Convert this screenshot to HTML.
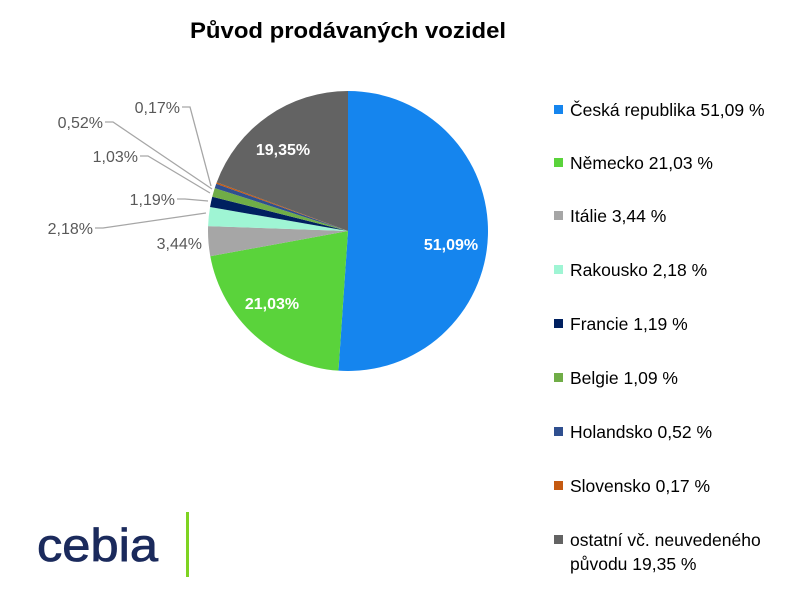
<!DOCTYPE html>
<html><head><meta charset="utf-8"><style>
body{margin:0;background:#fff;width:800px;height:600px;overflow:hidden;font-family:"Liberation Sans",sans-serif}
</style></head><body>
<svg id="s" width="800" height="600" xmlns="http://www.w3.org/2000/svg" font-family="Liberation Sans, sans-serif">
<text x="348" y="38" text-anchor="middle" font-size="22" font-weight="bold" fill="#000" textLength="316" lengthAdjust="spacingAndGlyphs">Původ prodávaných vozidel</text>
<g id="pie"></g>
<g fill="none" stroke="#a6a6a6" stroke-width="1.3">
<polyline points="182,107 190,107 211,186"/>
<polyline points="105,122 113,122 212,189"/>
<polyline points="140,156 148,156 210,193"/>
<polyline points="177,199 185,199 208,201"/>
<polyline points="95,228 103,228 206,213"/>
</g>
<g font-size="16" fill="#595959" text-anchor="end">
<text x="180" y="113">0,17%</text>
<text x="103" y="128">0,52%</text>
<text x="138" y="162">1,03%</text>
<text x="175" y="205">1,19%</text>
<text x="93" y="234">2,18%</text>
<text x="202" y="249">3,44%</text>
</g>
<g font-size="16" font-weight="bold" fill="#fff" text-anchor="middle">
<text x="451" y="250">51,09%</text>
<text x="272" y="309">21,03%</text>
<text x="283" y="155">19,35%</text>
</g>
<g font-size="17.5" fill="#000" id="leg"></g>
<text x="37" y="561" font-size="46" fill="#1b2a5c" textLength="121" lengthAdjust="spacingAndGlyphs" stroke="#1b2a5c" stroke-width="0.8">cebia</text>
<rect x="186" y="512" width="3" height="65" fill="#7ed321"/>
</svg>
<script>
var d=[["Česká republika 51,09 %",51.09,"#1585ee"],["Německo 21,03 %",21.03,"#5ad33b"],["Itálie 3,44 %",3.44,"#a6a6a6"],["Rakousko 2,18 %",2.18,"#9ff5d4"],["Francie 1,19 %",1.19,"#002060"],["Belgie 1,09 %",1.03,"#70ad47"],["Holandsko 0,52 %",0.52,"#2f4f8f"],["Slovensko 0,17 %",0.17,"#c55a11"],["ostatní vč. neuvedeného",19.35,"#636363"]];
var cx=348,cy=231,r=140,a=0,ns="http://www.w3.org/2000/svg",pie=document.getElementById("pie"),leg=document.getElementById("leg");
var ys=[110,163,216,270,324,378,432,486,540];
d.forEach(function(e,i){var a2=a+e[1]/100*2*Math.PI;
var x1=cx+r*Math.sin(a),y1=cy-r*Math.cos(a),x2=cx+r*Math.sin(a2),y2=cy-r*Math.cos(a2);
var p=document.createElementNS(ns,"path");p.setAttribute("d","M"+cx+","+cy+"L"+x1+","+y1+"A"+r+","+r+" 0 "+((a2-a)>Math.PI?1:0)+" 1 "+x2+","+y2+"Z");
p.setAttribute("fill",e[2]);pie.appendChild(p);a=a2;
var q=document.createElementNS(ns,"rect");q.setAttribute("x",554);q.setAttribute("y",ys[i]-5);q.setAttribute("width",9);q.setAttribute("height",9);q.setAttribute("fill",e[2]);leg.appendChild(q);
var t=document.createElementNS(ns,"text");t.setAttribute("x",570);t.setAttribute("y",ys[i]+6);t.textContent=e[0];leg.appendChild(t);
});
var t=document.createElementNS(ns,"text");t.setAttribute("x",570);t.setAttribute("y",570);t.textContent="původu 19,35 %";leg.appendChild(t);
</script>
</body></html>
